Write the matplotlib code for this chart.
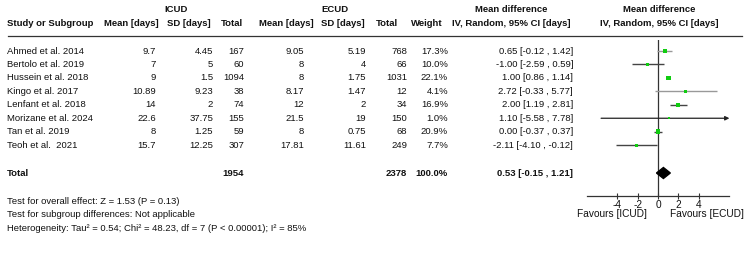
import matplotlib
matplotlib.use("Agg")
import matplotlib.pyplot as plt
import numpy as np

studies = ["Ahmed et al. 2014", "Bertolo et al. 2019", "Hussein et al. 2018", "Kingo et al. 2017",
           "Lenfant et al. 2018", "Morizane et al. 2024", "Tan et al. 2019", "Teoh et al.  2021"]
icud_mean = ["9.7", "7", "9", "10.89", "14", "22.6", "8", "15.7"]
icud_sd = ["4.45", "5", "1.5", "9.23", "2", "37.75", "1.25", "12.25"]
icud_total = ["167", "60", "1094", "38", "74", "155", "59", "307"]
ecud_mean = ["9.05", "8", "8", "8.17", "12", "21.5", "8", "17.81"]
ecud_sd = ["5.19", "4", "1.75", "1.47", "2", "19", "0.75", "11.61"]
ecud_total = ["768", "66", "1031", "12", "34", "150", "68", "249"]
weight = [17.3, 10.0, 22.1, 4.1, 16.9, 1.0, 20.9, 7.7]
md = [0.65, -1.00, 1.00, 2.72, 2.00, 1.10, 0.00, -2.11]
lo = [-0.12, -2.59, 0.86, -0.33, 1.19, -5.58, -0.37, -4.10]
hi = [1.42, 0.59, 1.14, 5.77, 2.81, 7.78, 0.37, -0.12]
total_icud = "1954"
total_ecud = "2378"
pooled = (0.53, -0.15, 1.21)
footer = ["Test for overall effect: Z = 1.53 (P = 0.13)",
          "Test for subgroup differences: Not applicable",
          "Heterogeneity: Tau\u00b2 = 0.54; Chi\u00b2 = 48.23, df = 7 (P < 0.00001); I\u00b2 = 85%"]
xticks = [-4, -2, 0, 2, 4]

plt.rcParams['font.family'] = ['Liberation Sans', 'DejaVu Sans']
FS = 6.8
W, H = 750, 275
fig = plt.figure(figsize=(7.5, 2.75), dpi=100)
ax = fig.add_axes([0, 0, 1, 1])
ax.set_xlim(0, W)
ax.set_ylim(H, 0)
ax.axis('off')

def t(x, y, s, ha='left', bold=False, fs=FS):
    ax.text(x, y, s, ha=ha, va='center', fontsize=fs, fontweight='bold' if bold else 'normal', color='#111')

# headers
t(176, 10, "ICUD", 'center', True)
t(335, 10, "ECUD", 'center', True)
t(511, 10, "Mean difference", 'center', True)
t(659, 10, "Mean difference", 'center', True)
t(7, 24, "Study or Subgroup", 'left', True)
t(131, 24, "Mean [days]", 'center', True)
t(189, 24, "SD [days]", 'center', True)
t(232, 24, "Total", 'center', True)
t(286, 24, "Mean [days]", 'center', True)
t(343, 24, "SD [days]", 'center', True)
t(387, 24, "Total", 'center', True)
t(427, 24, "Weight", 'center', True)
t(511, 24, "IV, Random, 95% CI [days]", 'center', True)
t(659, 24, "IV, Random, 95% CI [days]", 'center', True)
ax.plot([8, 742], [36, 36], color='#333', lw=0.9)

row_y = [51 + i * 13.45 for i in range(len(studies))]
cols = [(156, icud_mean), (213, icud_sd), (244, icud_total), (304, ecud_mean),
        (366, ecud_sd), (407, ecud_total)]
for i, y in enumerate(row_y):
    t(7, y, studies[i])
    for x, arr in cols:
        t(x, y, arr[i], 'right')
    t(448, y, f"{weight[i]:.1f}%", 'right')
    t(573, y, f"{md[i]:.2f} [{lo[i]:.2f} , {hi[i]:.2f}]", 'right')

ty = 173
t(7, ty, "Total", 'left', True)
t(244, ty, total_icud, 'right', True)
t(407, ty, total_ecud, 'right', True)
t(448, ty, "100.0%", 'right', True)
t(573, ty, f"{pooled[0]:.2f} [{pooled[1]:.2f} , {pooled[2]:.2f}]", 'right', True)

for k, s in enumerate(footer):
    t(7, 201 + k * 13.6, s)

# forest axes
x0, x1 = 586.6, 729.4
ytop, ybot = 40, 196
axf = fig.add_axes([x0 / W, 1 - ybot / H, (x1 - x0) / W, (ybot - ytop) / H])
axf.set_xlim(-7, 7)
axf.set_ylim(ybot, ytop)
axf.patch.set_alpha(0)
for s in ['top', 'right', 'left']:
    axf.spines[s].set_visible(False)
axf.spines['bottom'].set_color('#333')
axf.spines['bottom'].set_linewidth(0.9)
axf.set_yticks([])
axf.set_xticks(xticks)
axf.set_xticklabels([str(v) for v in xticks], fontsize=FS + 0.5, color='#111')
axf.tick_params(axis='x', direction='inout', length=5, width=0.8, color='#333', pad=0.3)
axf.axvline(0, color='#333', lw=0.9)

line_cols = ['#999', '#444', '#444', '#999', '#444', '#444', '#444', '#444']
for i, y in enumerate(row_y):
    l, h = lo[i], hi[i]
    if h > 7:
        axf.annotate("", xy=(7, y), xytext=(max(l, -7), y),
                     arrowprops=dict(arrowstyle='-|>', color='#222', lw=0.9,
                                     mutation_scale=6, shrinkA=0, shrinkB=0))
    else:
        axf.plot([max(l, -7), h], [y, y], color=line_cols[i], lw=1.0, solid_capstyle='butt')
    side_px = 2.0 + 0.12 * weight[i]
    side_pt = side_px * 72 / 100
    axf.scatter([md[i]], [y], marker='s', s=side_pt ** 2, color='#11cc11', edgecolors='none', zorder=3)

# diamond
est, dl, dh = pooled
axf.fill([dl, est, dh, est], [ty, ty - 5.5, ty, ty + 5.5], color='black', zorder=4)

ax.text(612, 214, "Favours [ICUD]", ha='center', va='center', fontsize=FS + 0.5, color='#111')
ax.text(707, 214, "Favours [ECUD]", ha='center', va='center', fontsize=FS + 0.5, color='#111')

fig.savefig("out.png", dpi=100)
